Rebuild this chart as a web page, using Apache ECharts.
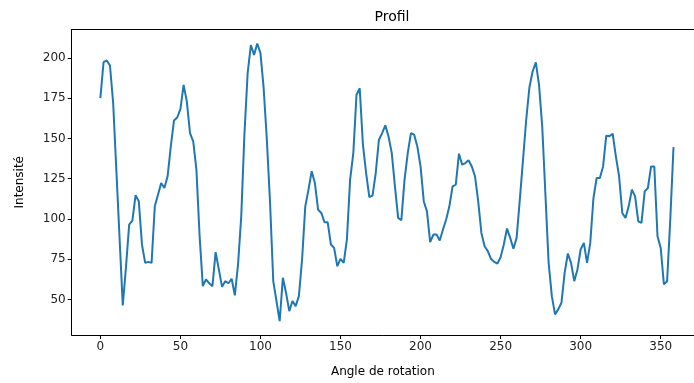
<!DOCTYPE html>
<html>
<head>
<meta charset="utf-8">
<script src="https://cdn.jsdelivr.net/npm/echarts@6/dist/echarts.min.js"></script>
<style>
  html, body { margin: 0; padding: 0; background: #fff; }
  #chart { width: 694px; height: 383px; }
</style>
</head>
<body>
<div id="chart"></div>
<script>
// angles (degrees)
var angles = [
  0, 2, 4, 6, 8, 10, 12, 14, 16, 18, 20, 22, 24, 26, 28, 30, 32, 34, 36, 38,
  40, 42, 44, 46, 48, 50, 52, 54, 56, 58, 60, 62, 64, 66, 68, 70, 72, 74, 76, 78,
  80, 82, 84, 86, 88, 90, 92, 94, 96, 98, 100, 102, 104, 106, 108, 110, 112, 114, 116, 118,
  120, 122, 124, 126, 128, 130, 132, 134, 136, 138, 140, 142, 144, 146, 148, 150, 152, 154, 156, 158,
  160, 162, 164, 166, 168, 170, 172, 174, 176, 178, 180, 182, 184, 186, 188, 190, 192, 194, 196, 198,
  200, 202, 204, 206, 208, 210, 212, 214, 216, 218, 220, 222, 224, 226, 228, 230, 232, 234, 236, 238,
  240, 242, 244, 246, 248, 250, 252, 254, 256, 258, 260, 262, 264, 266, 268, 270, 272, 274, 276, 278,
  280, 282, 284, 286, 288, 290, 292, 294, 296, 298, 300, 302, 304, 306, 308, 310, 312, 314, 316, 318,
  320, 322, 324, 326, 328, 330, 332, 334, 336, 338, 340, 342, 344, 346, 348, 350, 352, 354, 356, 358
];
// intensity profile
var intensite = [
  175, 197.4, 198.4, 195.3, 172, 130, 88, 46.3, 70, 96.5, 99, 114.7, 111, 84, 72.7, 73.3, 72.7, 107.8, 115, 122.3,
  119.2, 126.5, 145, 161.2, 163, 168.2, 183.3, 173, 153.3, 148.2, 130.6, 89.2, 58.2, 62.4, 60, 58.2, 79.3, 68.6, 57.8, 61.3,
  60, 62.8, 52.5, 71.7, 101.6, 153, 190.5, 208, 201.9, 209, 203, 181.2, 149, 110, 61.3, 49, 36.5, 63.4, 54, 42.7,
  49, 45.8, 52, 74.8, 107.8, 118.2, 129.6, 122.3, 105.8, 103.7, 97.9, 97.9, 84.1, 82, 70.6, 75.2, 72.7, 87.2, 124.4, 140.9,
  177.1, 181.2, 146.1, 128.5, 113.6, 114.5, 128.5, 149.2, 153.3, 158.1, 151.2, 141, 120.2, 100.6, 99.2, 124.4, 140.9, 153.3, 152.3, 145,
  132.6, 111, 104.7, 85.5, 90.3, 90.3, 86.6, 93.4, 99.6, 107.8, 120.2, 121.3, 140.5, 133.7, 134.7, 136.4, 132.6, 126.5, 111, 91.3,
  83, 80, 75.2, 73.3, 72.3, 76.2, 84.1, 94, 88.2, 81.4, 88.2, 112, 136.8, 161.6, 181.8, 191.6, 197.3, 183.3, 157.5, 115,
  72.7, 52, 40.7, 43.8, 47.9, 66.5, 78.5, 72.7, 61.3, 68.6, 81, 85.1, 72.7, 85.1, 113, 125.4, 125.4, 132.6, 151.7, 151.3,
  152.9, 138.9, 126.5, 103.7, 100.6, 107.8, 118.2, 114, 98.5, 97.5, 117.1, 119.2, 132.6, 132.6, 89.2, 82, 59.3, 61.3, 100, 144.6
];
var xTicks = [0, 50, 100, 150, 200, 250, 300, 350];
var yTicks = [50, 75, 100, 125, 150, 175, 200];

var chartDom = document.getElementById('chart');
var myChart = echarts.init(chartDom, null, { renderer: 'canvas' });
var font = 'DejaVu Sans';

var points = [];
for (var i = 0; i < angles.length; i++) {
  points.push([angles[i], intensite[i]]);
}

// the figure is cut on the right, so the x range stops at the picture edge
var xMin = -17.9, xMax = 370.8;

var option = {
  backgroundColor: '#fff',
  animation: false,
  title: {
    text: 'Profil',
    left: 387,
    top: 5,
    textAlign: 'center',
    textStyle: { fontFamily: font, fontSize: 14, fontWeight: 'normal', color: '#000' }
  },
  grid: {
    left: 71.7,
    right: 0,
    top: 29.5,
    bottom: 47.3,
    containLabel: false
  },
  xAxis: [
    {
      type: 'value',
      min: xMin,
      max: xMax,
      name: 'Angle de rotation',
      nameLocation: 'middle',
      nameGap: 31,
      nameTextStyle: { fontFamily: font, fontSize: 12, color: '#000' },
      splitLine: { show: false },
      axisLine: { show: true, onZero: false, lineStyle: { color: '#000', width: 1 } },
      axisTick: { show: true, length: 4, customValues: xTicks, lineStyle: { color: '#000' } },
      axisLabel: {
        customValues: xTicks,
        margin: 6,
        fontFamily: font,
        fontSize: 12,
        color: '#222'
      }
    },
    {
      type: 'value',
      position: 'top',
      min: xMin,
      max: xMax,
      splitLine: { show: false },
      axisLine: { show: true, onZero: false, lineStyle: { color: '#000', width: 1 } },
      axisTick: { show: false },
      axisLabel: { show: false }
    }
  ],
  yAxis: {
    type: 'value',
    min: 27.87,
    max: 217.67,
    name: 'Intensité',
    nameLocation: 'middle',
    nameGap: 46,
    nameTextStyle: { fontFamily: font, fontSize: 12, color: '#000' },
    splitLine: { show: false },
    axisLine: { show: true, onZero: false, lineStyle: { color: '#000', width: 1 } },
    axisTick: { show: true, length: 4, customValues: yTicks, lineStyle: { color: '#000' } },
    axisLabel: {
      customValues: yTicks,
      margin: 6,
      fontFamily: font,
      fontSize: 12,
      color: '#222'
    }
  },
  series: [
    {
      type: 'line',
      xAxisIndex: 0,
      data: points,
      symbol: 'none',
      lineStyle: { color: '#1f77b4', width: 2 },
      itemStyle: { color: '#1f77b4' }
    }
  ]
};

option && myChart.setOption(option);
window.addEventListener('resize', function () {
  myChart.resize();
});
</script>
</body>
</html>
